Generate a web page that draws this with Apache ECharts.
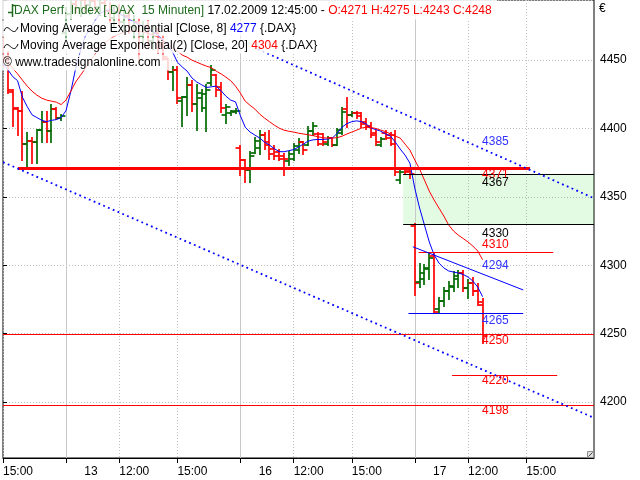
<!DOCTYPE html>
<html><head><meta charset="utf-8">
<script src="https://cdn.jsdelivr.net/npm/echarts@6/dist/echarts.min.js"></script>
<style>html,body{margin:0;padding:0;background:#fff}#c{width:640px;height:480px}</style>
</head><body><div id="c"></div>
<script>
// ================= DATA =================
const sessionDays = ['12.02.2009','13.02.2009','16.02.2009','17.02.2009','18.02.2009'];
const sessionStart = '09:15', sessionEnd = '18:00', firstTime = '15:00';
const slotCount = 123;

const barOpen = [4462,4452,4427,4415,4413,4389,4391,4390,4399,4405,4398,4414,4408,
 4470,4484,4491,4488,4494,4490,4493,4489,4492,4486,4481,4485,4478,4482,4474,4478,4468,4475,4464,4470,4462,
 4451,4441,4443,4420,4423,4432,4418,4422,4415,4433,4439,4430,4410,4411,4412,
 4386,4377,4370,4382,4386,4395,4390,4385,4383,4380,4376,4378,4384,4390,4388,4398,4396,4396,4389,4393,4388,4397,4414,4410,4411,4411,4405,4402,4397,4388,4397,4395,4395,4362,4371,4369,
 4329,4288,4290,4297,4307,4268,4274,4281,4284,4290,4294,4283,4287,4281,4271];
const barHigh = [4466,4456,4428,4415,4427,4397,4393,4399,4412,4412,4417,4415,4410,
 4488,4495,4498,4497,4500,4496,4499,4496,4497,4492,4488,4490,4486,4487,4482,4480,4478,4479,4474,4473,4468,
 4451,4445,4445,4423,4437,4435,4432,4428,4432,4446,4439,4433,4417,4413,4414,
 4387,4377,4383,4393,4398,4397,4398,4387,4384,4381,4383,4389,4392,4390,4401,4404,4397,4396,4394,4393,4400,4415,4422,4412,4412,4411,4407,4404,4398,4393,4398,4397,4398,4370,4371,4370,
 4330,4301,4300,4309,4309,4276,4283,4288,4295,4296,4296,4289,4291,4286,4275];
const barLow = [4446,4426,4402,4395,4377,4372,4375,4375,4390,4390,4390,4407,4406,
 4465,4480,4485,4482,4486,4484,4487,4483,4484,4478,4474,4476,4472,4470,4466,4449,4462,4460,4458,4455,4450,
 4436,4428,4419,4402,4410,4413,4399,4413,4398,4432,4424,4412,4404,4410,4411,
 4366,4361,4361,4382,4381,4385,4378,4378,4377,4366,4373,4377,4382,4381,4388,4395,4388,4388,4388,4387,4388,4396,4401,4409,4408,4401,4400,4394,4388,4387,4392,4388,4366,4360,4367,4364,
 4278,4284,4286,4290,4265,4266,4270,4275,4281,4284,4281,4276,4278,4271,4243];
const barClose = [4450,4428,4414,4413,4389,4391,4390,4399,4405,4398,4414,4408,4409,
 4484,4491,4488,4494,4490,4493,4489,4492,4486,4481,4485,4478,4482,4474,4478,4468,4475,4464,4470,4460,4452,
 4441,4443,4422,4423,4432,4418,4426,4425,4428,4443,4428,4415,4416,4413,4413,
 4377,4370,4380,4391,4395,4388,4381,4380,4378,4378,4381,4387,4390,4384,4398,4402,4389,4390,4393,4388,4399,4412,4410,4411,4409,4403,4401,4395,4390,4392,4393,4389,4368,4368,4368,4367,
 4287,4294,4298,4305,4266,4274,4281,4285,4292,4294,4283,4287,4281,4273,4248];

const ema8 = [4447,4443,4438,4435,4423,4416,4410,4408,4406,4405,4406,4406.5,4408,
 4413,4427,4444,4457,4467.5,4473,4479,4484,4486,4487,4486,4484,4482,4480,4478,4476,4475,4473,4471,4468,4465,
 4461,4456,4448.5,4445,4442,4437,4434,4432,4430,4430.5,4431,4427.7,4423.7,4420.8,4419.5,
 4409.4,4401,4397.4,4395.2,4393,4390,4387.9,4385.3,4383.1,4383,4383.8,4384.6,4386.4,4388.6,4390.8,4391.7,4392,4392,4392.3,4393,4396.6,4401,4403.6,4405,4405.6,4405,4403.2,4400.3,4399.2,4398,4396,4394.4,4390,4385,4380.5,4374.7,
 4356.4,4341.8,4329.4,4317,4307.5,4301.6,4298,4295.8,4295,4294.3,4293.2,4291.4,4288.4,4284,4277];
const ema20 = [4451,4448.5,4444,4440,4435.4,4431,4427.3,4424.4,4422.2,4420.8,4420,4419.3,4417.5,
 4420.8,4427.3,4434,4439,4444,4449.3,4454.4,4458.8,4462.4,4465.4,4467.5,4469,4470.5,4471.2,4471.2,4471,4470.5,4469.7,4468.3,4466.8,4464.6,
 4461.7,4458.8,4456.6,4453.7,4452.2,4450,4448.5,4447,4445.6,4444.5,4442,4440,4437.6,4435,4431,
 4425.9,4420,4417,4414.2,4410.5,4407.6,4405,4402.5,4400.3,4398.8,4398,4397.4,4396.6,4396,4395.4,4394.8,4394,4393.3,4393,4393,4393.3,4394.4,4396,4397.4,4398.8,4400.3,4401,4400.7,4400,4398.8,4397.7,4396,4394.4,4393,4388.6,4384.2,
 4377,4370.3,4362.3,4354.2,4347.7,4341.8,4336,4329.4,4325,4322,4319.5,4317,4314,4310.4,4304];

// horizontal levels: price, first slot, last slot
const levelPrice = [4371, 4367, 4330, 4310, 4265, 4250, 4220, 4198];
const levelFrom  = [3.1, 82.6, 82.6, 85.8, 83.7, 0, 92.7, 0];
const levelTo    = [108.8, 122, 122, 113.6, 107.4, 122, 114.4, 122];
// trend lines: start slot/price, end slot/price
const trendFromX = [84.6, 52.6, 0];
const trendFromP = [4313.5, 4458, 4375.4];
const trendToX   = [107.4, 122, 122];
const trendToP   = [4281.9, 4349, 4188.4];
// gap zone
const zoneFromX = [82.6], zoneToX = [122], zoneLow = [4330], zoneHigh = [4367];
// value labels at the last bar
const labelText  = ['4385','4371','4367','4330','4310','4294','4265','4250','4220','4198'];
const labelPrice = [4385, 4371, 4367, 4330, 4310, 4294, 4265, 4250, 4220, 4198];

// x tick labels
const xTickCats = ['12.02.2009 15:00','13.02.2009 09:15','13.02.2009 12:00','13.02.2009 15:00','16.02.2009 09:15','16.02.2009 12:00','16.02.2009 15:00','17.02.2009 09:15','17.02.2009 12:00','17.02.2009 15:00'];
const xTickText = ['15:00','13','12:00','15:00','16','12:00','15:00','17','12:00','15:00'];

// ================= STYLES =================
const FONT = '"Liberation Sans", Arial, sans-serif';
const upColor = '#006a00', downColor = '#ff0000', blueC = '#0000ff', labelBlue = '#3333ff';
const levelColor = ['#ff0000','#000000','#000000','#ff0000','#0000ff','#ff0000','#ff0000','#ff0000'];
const levelWidth = [3,1,1,1,1,1,1,1];
const trendDotted = [false, true, true];
const labelColor = [labelBlue,'#ff0000','#000000','#000000','#ff0000',labelBlue,labelBlue,'#ff0000','#ff0000','#ff0000'];
const labelDy = [-7, 6.5, 9, 9.5, -6.5, -8, 7.5, 7, 6.5, 6.5];
const legendBg = 'rgba(255,255,255,0.82)';

// ================= BUILD =================
function toMin(t){const p=t.split(':').map(Number);return p[0]*60+p[1];}
function fmt(m){return String(Math.floor(m/60)).padStart(2,'0')+':'+String(m%60).padStart(2,'0');}
const categories = [];
sessionDays.forEach((d,k)=>{
  for(let m=(k===0?toMin(firstTime):toMin(sessionStart)); m<=toMin(sessionEnd); m+=15){
    if(categories.length<slotCount) categories.push(d+' '+fmt(m));
  }
});
const tickMap = {}; xTickCats.forEach((c,i)=>tickMap[c]=xTickText[i]);
const dayStartIdx = xTickCats.filter((c,i)=>xTickText[i].indexOf(':')<0).map(c=>categories.indexOf(c));
const gridDotCats = new Set(xTickCats.filter((c,i)=>xTickText[i].indexOf(':')>=0));

const nBars = barClose.length;
const lastIdx = nBars-1;
const ohlcData = barClose.map((c,i)=>[i, barOpen[i], barHigh[i], barLow[i], c]);
const fmt0 = v => String(Math.round(v));

function renderOHLC(params, api){
  const i = api.value(0), o = api.value(1), h = api.value(2), l = api.value(3), c = api.value(4);
  const pH = api.coord([i,h]), pL = api.coord([i,l]), pO = api.coord([i,o]), pC = api.coord([i,c]);
  const w = api.size([1,0])[0]*0.92;
  const x = Math.round(pH[0]);
  const col = c >= o ? upColor : downColor;
  const st = {stroke: col, lineWidth: 1.7};
  const yo = Math.round(pO[1]), yc = Math.round(pC[1]);
  return {type:'group', children:[
    {type:'line', shape:{x1:x, y1:Math.round(pH[1])-1, x2:x, y2:Math.round(pL[1])+1}, style:st},
    {type:'line', shape:{x1:x-w, y1:yo, x2:x, y2:yo}, style:st},
    {type:'line', shape:{x1:x, y1:yc, x2:x+w, y2:yc}, style:st}
  ]};
}
function renderLevel(params, api){
  const i = params.dataIndex;
  const a = api.coord([api.value(0), api.value(2)]), b = api.coord([api.value(1), api.value(2)]);
  const y = Math.round(a[1]) + (levelWidth[i]%2 ? 0.5 : 0);
  return {type:'line', shape:{x1:a[0], y1:y, x2:b[0], y2:y}, style:{stroke:levelColor[i], lineWidth:levelWidth[i]}};
}
function renderTrend(params, api){
  const i = params.dataIndex;
  const a = api.coord([api.value(0), api.value(1)]), b = api.coord([api.value(2), api.value(3)]);
  return {type:'line', shape:{x1:a[0], y1:a[1], x2:b[0], y2:b[1]},
    style: trendDotted[i] ? {stroke:blueC, lineWidth:1.8, lineDash:[1.8,3.4]} : {stroke:blueC, lineWidth:1}};
}
function renderZone(params, api){
  const a = api.coord([api.value(0), api.value(3)]), b = api.coord([api.value(1), api.value(2)]);
  return {type:'rect', shape:{x:a[0], y:a[1], width:b[0]-a[0], height:b[1]-a[1]}, style:{fill:'rgba(0,210,0,0.11)'}};
}
function renderDaySep(params, api){
  const p = api.coord([api.value(0), 4300]);
  const cs = params.coordSys;
  const x = Math.round(p[0]) + 0.5;
  return {type:'line', shape:{x1:x, y1:cs.y, x2:x, y2:cs.y+cs.height}, style:{stroke:'#c8c8c8', lineWidth:1}};
}
function renderLabels(params, api){
  const i = params.dataIndex;
  const p = api.coord([api.value(0), api.value(1)]);
  return {type:'text', x:p[0]-0.5, y:p[1]+labelDy[i], style:{text:labelText[i], fill:labelColor[i], font:'12px '+FONT, align:'left', verticalAlign:'middle'}};
}

const lastDT = categories[lastIdx] + ':00';
const txt = (x,y,text,rich)=>({type:'text', x:x, y:y, z:100, style:{text:text, font:'12px '+FONT, fill:'#000',
  align:'left', verticalAlign:'middle', textAlign:'left', textVerticalAlign:'middle', rich:rich||{}}});

const chart = echarts.init(document.getElementById('c'), null, {renderer:'canvas'});
chart.setOption({
  animation:false,
  backgroundColor:'#ffffff',
  textStyle:{fontFamily:FONT},
  grid:{left:2, right:46, top:0, bottom:22, show:true, borderColor:'#000', borderWidth:1, backgroundColor:'#fff', containLabel:false},
  xAxis:[{
    type:'category', data:categories, boundaryGap:false, position:'bottom',
    axisLine:{show:true, lineStyle:{color:'#000'}},
    axisTick:{show:true, length:5, lineStyle:{color:'#000'}, interval:(i,v)=>tickMap[v]!==undefined},
    axisLabel:{show:true, interval:(i,v)=>tickMap[v]!==undefined, align:'left', margin:8, color:'#000', fontSize:12, fontFamily:FONT,
      formatter:v=>{const t=tickMap[v]; if(t===undefined) return ''; return t.indexOf(':')<0 ? '{d|'+t+'}' : '{t|'+t+'}';},
      rich:{d:{width:50, align:'center', fontSize:12, color:'#000', fontFamily:FONT}, t:{fontSize:12, color:'#000', fontFamily:FONT}}},
    splitLine:{show:true, interval:(i,v)=>gridDotCats.has(v), lineStyle:{color:'#c0c0c0', type:[1,2]}}
  },{
    type:'value', min:0, max:slotCount-1, show:false
  }],
  yAxis:{
    type:'value', position:'right', min:4159, max:4494, splitNumber:7, scale:true,
    axisLine:{show:false},
    axisTick:{show:true, length:4, lineStyle:{color:'#000'}},
    axisLabel:{margin:6, color:'#000', fontSize:12, fontFamily:FONT, formatter:v=> (v%50===0 ? String(v) : '')},
    splitLine:{show:true, lineStyle:{color:'#c0c0c0', type:[1,2]}}
  },
  series:[
    {type:'custom', name:'zone', xAxisIndex:1, z:1, clip:true, renderItem:renderZone,
     data: zoneFromX.map((x,i)=>[x, zoneToX[i], zoneLow[i], zoneHigh[i]])},
    {type:'custom', name:'days', xAxisIndex:1, z:1, clip:true, renderItem:renderDaySep,
     data: dayStartIdx.map(i=>[i, 4300])},
    {type:'custom', name:'DAX', xAxisIndex:1, z:3, clip:true, renderItem:renderOHLC, data:ohlcData},
    {type:'line', name:'EMA8', xAxisIndex:1, z:4, showSymbol:false, symbol:'none', clip:true,
     lineStyle:{color:blueC, width:1}, data: ema8.map((v,i)=>[i,v])},
    {type:'line', name:'EMA20', xAxisIndex:1, z:4, showSymbol:false, symbol:'none', clip:true,
     lineStyle:{color:'#ff0000', width:1}, data: ema20.map((v,i)=>[i,v])},
    {type:'custom', name:'levels', xAxisIndex:1, z:5, clip:true, renderItem:renderLevel,
     data: levelPrice.map((p,i)=>[levelFrom[i], levelTo[i], p])},
    {type:'custom', name:'trends', xAxisIndex:1, z:5, clip:true, renderItem:renderTrend,
     data: trendFromX.map((x,i)=>[x, trendFromP[i], trendToX[i], trendToP[i]])},
    {type:'custom', name:'labels', xAxisIndex:1, z:6, clip:false, renderItem:renderLabels,
     data: labelPrice.map((p,i)=>[lastIdx, p])}
  ],
  graphic:[
    // legend backgrounds
    {type:'rect', z:99, shape:{x:2, y:0, width:495, height:19.5}, style:{fill:legendBg}},
    {type:'rect', z:99, shape:{x:2, y:20.5, width:296, height:16}, style:{fill:legendBg}},
    {type:'rect', z:99, shape:{x:2, y:37.5, width:317, height:16}, style:{fill:legendBg}},
    {type:'rect', z:99, shape:{x:2, y:54.5, width:167, height:16}, style:{fill:legendBg}},
    txt(14, 11, '{g|DAX Perf. Index [.DAX  15 Minuten]} '+lastDT+' - {r|O:'+fmt0(barOpen[lastIdx])+' H:'+fmt0(barHigh[lastIdx])+' L:'+fmt0(barLow[lastIdx])+' C:'+fmt0(barClose[lastIdx])+'}',
      {g:{fill:'#1d6b1d', color:'#1d6b1d', font:'12px '+FONT}, r:{fill:'#ff0000', color:'#ff0000', font:'12px '+FONT}}),
    txt(20, 28.5, 'Moving Average Exponential [Close, 8] {b|'+fmt0(ema8[lastIdx])+'} {.DAX}',
      {b:{fill:blueC, color:blueC, font:'12px '+FONT}}),
    txt(20, 45.5, 'Moving Average Exponential(2) [Close, 20] {r|'+fmt0(ema20[lastIdx])+'} {.DAX}',
      {r:{fill:'#ff0000', color:'#ff0000', font:'12px '+FONT}}),
    txt(3, 62.5, '© www.tradesignalonline.com'),
    // legend icons
    {type:'line', z:101, shape:{x1:12.5, y1:4, x2:12.5, y2:17}, style:{stroke:'#1d6b1d', lineWidth:1.5}},
    {type:'line', z:101, shape:{x1:8, y1:12.5, x2:12.5, y2:12.5}, style:{stroke:'#1d6b1d', lineWidth:1.5}},
    {type:'line', z:101, shape:{x1:12.5, y1:5.5, x2:15.5, y2:5.5}, style:{stroke:'#1d6b1d', lineWidth:1.5}},
    {type:'bezierCurve', z:101, shape:{x1:4, y1:31, cpx1:8, cpy1:20, cpx2:13, cpy2:40, x2:18, y2:27}, style:{stroke:'#000', lineWidth:1, fill:null}},
    {type:'bezierCurve', z:101, shape:{x1:4, y1:48, cpx1:8, cpy1:37, cpx2:13, cpy2:57, x2:18, y2:44}, style:{stroke:'#000', lineWidth:1, fill:null}},
    // currency sign
    txt(599, 9, '€'),
    // corner glyph
    {type:'rect', z:101, shape:{x:587.5, y:451.5, width:6, height:6}, style:{fill:'#e0e0e0', stroke:'#909090', lineWidth:1}},
    {type:'line', z:102, shape:{x1:588.5, y1:456.5, x2:592.5, y2:452.5}, style:{stroke:'#404040', lineWidth:1}}
  ]
});
</script>
</body></html>
